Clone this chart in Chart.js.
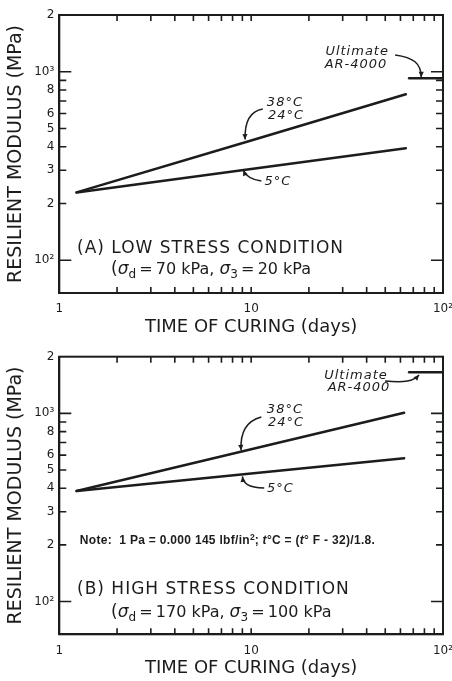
<!DOCTYPE html>
<html>
<head>
<meta charset="utf-8">
<script src="https://cdn.jsdelivr.net/npm/chart.js@4.4.0/dist/chart.umd.min.js"></script>
<style>
  html, body { margin: 0; padding: 0; background: #fff; }
  #wrap { position: relative; width: 452px; height: 681px; }
  canvas { position: absolute; left: 0; }
</style>
</head>
<body>
<div id="wrap">
  <canvas id="lowStress" width="452" height="340" style="top:0"></canvas>
  <canvas id="highStress" width="452" height="341" style="top:340px"></canvas>
</div>
<script>
// Resilient modulus (MPa) versus time of curing (days)
const lowDays = [1.23, 10, 64];
const lowWarm = [229, 432, 759];     // 38°C and 24°C
const lowCold = [229, 305, 393];     // 5°C
const highDays = [1.23, 10, 62.7];
const highWarm = [387, 645, 1008];   // 38°C and 24°C
const highCold = [387, 479, 577];    // 5°C
const ultimateDays = [66.6, 100];
const lowUltimate = [923, 923];      // Ultimate AR-4000
const highUltimate = [1653, 1653];

const dayTicks = [1, 2, 3, 4, 5, 6, 7, 8, 9, 10, 20, 30, 40, 50, 60, 70, 80, 90, 100];
const dayTickLabels = { 1: '1', 10: '10', 100: '10²' };
const modulusTicks = [100, 200, 300, 400, 500, 600, 700, 800, 900, 1000, 2000];
const modulusTickLabels = { 100: '10²', 200: '2', 300: '3', 400: '4', 500: '5', 600: '6', 800: '8', 1000: '10³', 2000: '2' };

const INK = '#1c1c1c';
const FAMILY = '"DejaVu Sans"';

// Frame around the plot plus inward tick marks on all four sides
const frameTicks = {
  id: 'frameTicks',
  afterDatasetsDraw(chart) {
    const { ctx, chartArea: a, scales: { x, y } } = chart;
    ctx.save();
    ctx.strokeStyle = INK;
    ctx.lineWidth = 2;
    ctx.strokeRect(a.left, a.top, a.width, a.height);
    ctx.lineWidth = 1.6;
    ctx.beginPath();
    y.ticks.forEach(t => {
      if (t.value >= 2000) return;
      const py = y.getPixelForValue(t.value);
      const len = (t.value === 100 || t.value === 1000) ? 12 : 7;
      ctx.moveTo(a.left, py); ctx.lineTo(a.left + len, py);
      ctx.moveTo(a.right, py); ctx.lineTo(a.right - len, py);
    });
    x.ticks.forEach(t => {
      if (t.value <= 1 || t.value >= 100) return;
      const px = x.getPixelForValue(t.value);
      ctx.moveTo(px, a.bottom); ctx.lineTo(px, a.bottom - 6);
      ctx.moveTo(px, a.top); ctx.lineTo(px, a.top + 6);
    });
    ctx.stroke();
    ctx.restore();
  }
};

function drawRuns(ctx, x, y, runs, align) {
  let total = 0;
  runs.forEach(r => {
    ctx.font = r.font;
    ctx.letterSpacing = (r.ls || 0) + 'px';
    r.w = ctx.measureText(r.t).width;
    total += r.w;
  });
  let cx = align === 'center' ? x - total / 2 : x;
  runs.forEach(r => {
    ctx.font = r.font;
    ctx.letterSpacing = (r.ls || 0) + 'px';
    ctx.fillText(r.t, cx, y + (r.dy || 0));
    cx += r.w;
  });
  ctx.letterSpacing = '0px';
}

// Labels and curved leader arrows, anchored in data units
function notesPlugin(notes) {
  return {
    id: 'notes',
    afterDatasetsDraw(chart) {
      const { ctx, scales: { x, y } } = chart;
      const P = p => [x.getPixelForValue(p[0]), y.getPixelForValue(p[1])];
      ctx.save();
      ctx.fillStyle = INK;
      ctx.strokeStyle = INK;
      ctx.textAlign = 'left';
      ctx.textBaseline = 'middle';
      notes.texts.forEach(n => {
        const [px, py] = P(n.at);
        drawRuns(ctx, px, py, n.runs, n.align);
      });
      ctx.lineWidth = 1.5;
      notes.arrows.forEach(ar => {
        const [p0, c1, c2, p3] = ar.map(P);
        ctx.beginPath();
        ctx.moveTo(p0[0], p0[1]);
        ctx.bezierCurveTo(c1[0], c1[1], c2[0], c2[1], p3[0], p3[1]);
        ctx.stroke();
        const ang = Math.atan2(p3[1] - c2[1], p3[0] - c2[0]);
        const L = 6, W = 0.45;
        ctx.beginPath();
        ctx.moveTo(p3[0], p3[1]);
        ctx.lineTo(p3[0] - L * Math.cos(ang - W), p3[1] - L * Math.sin(ang - W));
        ctx.lineTo(p3[0] - L * Math.cos(ang + W), p3[1] - L * Math.sin(ang + W));
        ctx.closePath();
        ctx.fill();
      });
      ctx.restore();
    }
  };
}

const f = (size, style) => (style ? style + ' ' : '') + size + 'px ' + FAMILY;
const tempRun = t => [{ t, font: f(13, 'italic'), ls: 1 }];
const stressRuns = (d, c) => [
  { t: '(', font: f(17) },
  { t: 'σ', font: f(17, 'italic') },
  { t: 'd', font: f(12), dy: 5 },
  { t: '\u2009=\u2009' + d + ' kPa, ', font: f(16) },
  { t: 'σ', font: f(17, 'italic') },
  { t: '3', font: f(12), dy: 5 },
  { t: '\u2009=\u2009' + c + ' kPa', font: f(16) }
];
const NOTE = 'bold 12px "Liberation Sans"';
const NOTE_IT = 'italic bold 12px "Liberation Sans"';

const lowNotes = {
  texts: [
    { at: [15.0, 683], runs: tempRun('38°C'), align: 'center' },
    { at: [15.2, 582], runs: tempRun('24°C'), align: 'center' },
    { at: [13.8, 260], runs: tempRun('5°C'), align: 'center' },
    { at: [35.7, 1280], runs: tempRun('Ultimate'), align: 'center' },
    { at: [35.2, 1093], runs: tempRun('AR-4000'), align: 'center' },
    { at: [1.237, 114.7], runs: [{ t: '(A) LOW STRESS CONDITION', font: f(17), ls: 1 }], align: 'left' },
    { at: [1.86, 88.8], runs: stressRuns('70', '20'), align: 'left' }
  ],
  arrows: [
    [[11.5, 634], [9.6, 615], [9.25, 520], [9.3, 437]],
    [[11.3, 263], [9.9, 268], [9.3, 285], [9.1, 300]],
    [[56.3, 1227], [70, 1190], [77, 1110], [77, 935]]
  ]
};

const highNotes = {
  texts: [
    { at: [15.0, 1042], runs: tempRun('38°C'), align: 'center' },
    { at: [15.2, 888], runs: tempRun('24°C'), align: 'center' },
    { at: [14.2, 396], runs: tempRun('5°C'), align: 'center' },
    { at: [35.2, 1579], runs: tempRun('Ultimate'), align: 'center' },
    { at: [36.5, 1364], runs: tempRun('AR-4000'), align: 'center' },
    { at: [1.237, 116], runs: [{ t: '(B) HIGH STRESS CONDITION', font: f(17), ls: 1 }], align: 'left' },
    { at: [1.86, 87.2], runs: stressRuns('170', '100'), align: 'left' },
    { at: [1.28, 210], align: 'left', runs: [
      { t: 'Note:  1 Pa = 0.000 145 lbf/in', font: NOTE, ls: 0.3 },
      { t: '2', font: 'bold 8.5px "Liberation Sans"', dy: -3.5 },
      { t: '; ', font: NOTE, ls: 0.3 },
      { t: 't', font: NOTE_IT, ls: 0.3 },
      { t: '°C = (', font: NOTE, ls: 0.3 },
      { t: 't', font: NOTE_IT, ls: 0.3 },
      { t: '° F - 32)/1.8.', font: NOTE, ls: 0.3 }
    ] }
  ],
  arrows: [
    [[11.3, 956], [9.4, 910], [8.75, 796], [8.86, 636]],
    [[11.7, 401], [9.6, 404], [9.1, 425], [9.0, 462]],
    [[49.9, 1485], [63.4, 1450], [70, 1480], [75, 1600]]
  ]
};

function points(xs, ys) {
  return xs.map((d, i) => ({ x: d, y: ys[i] }));
}

function panelChart(canvasId, days, warm, cold, ultimate, topPad, axisHeight, notes) {
  return new Chart(document.getElementById(canvasId), {
    type: 'line',
    data: {
      datasets: [
        { label: '38°C, 24°C', data: points(days, warm) },
        { label: '5°C', data: points(days, cold) },
        { label: 'Ultimate AR-4000', data: points(ultimateDays, ultimate) }
      ]
    },
    options: {
      responsive: false,
      animation: false,
      devicePixelRatio: 1,
      layout: { padding: { top: topPad, right: 9, left: 0, bottom: 0 } },
      elements: {
        line: { borderColor: INK, borderWidth: 2.5, tension: 0, borderCapStyle: 'round' },
        point: { radius: 0 }
      },
      plugins: { legend: { display: false }, tooltip: { enabled: false } },
      scales: {
        x: {
          type: 'logarithmic', min: 1, max: 100,
          grid: { display: false, drawTicks: false },
          border: { display: true, color: INK, width: 2 },
          afterBuildTicks: s => { s.ticks = dayTicks.map(v => ({ value: v })); },
          afterFit: s => { s.height = axisHeight; s.paddingLeft = 0; s.paddingRight = 0; },
          ticks: {
            autoSkip: false, maxRotation: 0, padding: 9, color: INK,
            font: { family: 'DejaVu Sans', size: 12 },
            callback: v => dayTickLabels[v] || ''
          },
          title: {
            display: true, text: 'TIME OF CURING (days)', color: INK,
            font: { family: 'DejaVu Sans', size: 18 }, padding: { top: 0, bottom: 2 }
          }
        },
        y: {
          type: 'logarithmic', min: 67, max: 2000,
          grid: { display: false, drawTicks: false },
          border: { display: true, color: INK, width: 2 },
          afterBuildTicks: s => { s.ticks = modulusTicks.map(v => ({ value: v })); },
          afterFit: s => { s.width = 59.3; s.paddingTop = 0; s.paddingBottom = 0; },
          ticks: {
            autoSkip: false, padding: 5, color: INK,
            font: { family: 'DejaVu Sans', size: 12 },
            callback: v => modulusTickLabels[v] || ''
          },
          title: {
            display: true, text: 'RESILIENT MODULUS (MPa)', color: INK,
            font: { family: 'DejaVu Sans', size: 19 }, padding: { top: 4.6, bottom: 0 }
          }
        }
      }
    },
    plugins: [frameTicks, notesPlugin(notes)]
  });
}

panelChart('lowStress', lowDays, lowWarm, lowCold, lowUltimate, 15, 47, lowNotes);
panelChart('highStress', highDays, highWarm, highCold, highUltimate, 16.7, 46.7, highNotes);
</script>
</body>
</html>
